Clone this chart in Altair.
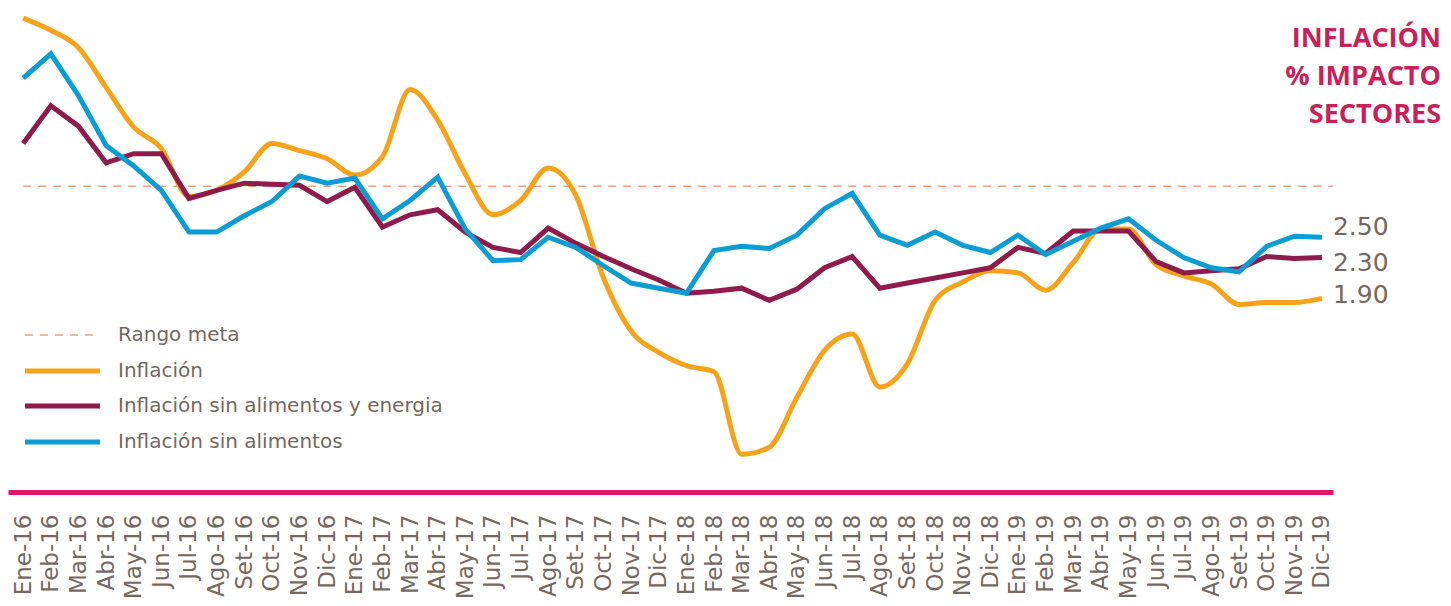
import altair as alt
import pandas as pd

meses = ["Ene-16", "Feb-16", "Mar-16", "Abr-16", "May-16", "Jun-16", "Jul-16", "Ago-16", "Set-16", "Oct-16", "Nov-16", "Dic-16",
         "Ene-17", "Feb-17", "Mar-17", "Abr-17", "May-17", "Jun-17", "Jul-17", "Ago-17", "Set-17", "Oct-17", "Nov-17", "Dic-17",
         "Ene-18", "Feb-18", "Mar-18", "Abr-18", "May-18", "Jun-18", "Jul-18", "Ago-18", "Set-18", "Oct-18", "Nov-18", "Dic-18",
         "Ene-19", "Feb-19", "Mar-19", "Abr-19", "May-19", "Jun-19", "Jul-19", "Ago-19", "Set-19", "Oct-19", "Nov-19", "Dic-19"]

inflacion = [4.65, 4.53, 4.36, 3.97, 3.58, 3.37, 2.90, 2.96, 3.14, 3.42, 3.35, 3.27,
             3.11, 3.29, 3.95, 3.65, 3.12, 2.72, 2.86, 3.18, 2.91, 2.10, 1.58, 1.37,
             1.24, 1.18, 0.37, 0.44, 0.93, 1.39, 1.55, 1.03, 1.26, 1.88, 2.06, 2.17,
             2.15, 1.98, 2.25, 2.58, 2.58, 2.23, 2.12, 2.04, 1.84, 1.86, 1.86, 1.90]

sin_alim_energia = [3.42, 3.79, 3.59, 3.23, 3.32, 3.32, 2.88, 2.96, 3.03, 3.02, 3.01, 2.85,
                    2.99, 2.60, 2.72, 2.77, 2.55, 2.40, 2.35, 2.59, 2.44, 2.31, 2.19, 2.08,
                    1.95, 1.97, 2.00, 1.88, 1.99, 2.20, 2.31, 2.00, 2.05, 2.10, 2.15, 2.20,
                    2.40, 2.34, 2.56, 2.56, 2.56, 2.26, 2.15, 2.17, 2.19, 2.31, 2.29, 2.30]

sin_alimentos = [4.06, 4.30, 3.89, 3.40, 3.20, 2.96, 2.55, 2.55, 2.71, 2.85, 3.10, 3.03,
                 3.08, 2.68, 2.86, 3.09, 2.58, 2.27, 2.28, 2.50, 2.40, 2.22, 2.05, 2.00,
                 1.95, 2.37, 2.41, 2.39, 2.52, 2.78, 2.93, 2.52, 2.42, 2.55, 2.42, 2.35,
                 2.52, 2.33, 2.46, 2.59, 2.68, 2.47, 2.30, 2.20, 2.16, 2.41, 2.51, 2.50]

rango_meta = 3.0

series = ["Rango meta", "Inflación", "Inflación sin alimentos y energia", "Inflación sin alimentos"]
colores = ["#F2A07B", "#F6A21B", "#8F1B4C", "#0A9CD3"]
titulo = ["INFLACIÓN", "% IMPACTO", "SECTORES"]

W, H = 1325, 479
TEXT_COLOR = "#74685F"
N = len(meses)
X_MIN, X_MAX = -0.55, N - 1 + 0.4

valores = {series[1]: inflacion, series[2]: sin_alim_energia, series[3]: sin_alimentos}
df = pd.DataFrame([
    {"idx": i, "mes": m, "valor": v, "serie": s}
    for s, vals in valores.items() for i, (m, v) in enumerate(zip(meses, vals))
])

label_expr = "[" + ",".join("'" + m + "'" for m in meses) + "][datum.value]"

x_scale = alt.Scale(domain=[X_MIN, X_MAX], nice=False, zero=False)
x_axis = alt.Axis(title=None, values=list(range(N)), labelExpr=label_expr,
                  labelAngle=-90, labelAlign="right", labelBaseline="middle",
                  labelFont="DejaVu Sans", labelFontSize=23, labelColor=TEXT_COLOR,
                  labelPadding=22, ticks=False, grid=False, labelOverlap=False,
                  labelFlush=False, domainColor="#E3136D", domainWidth=5)
y_scale = alt.Scale(domain=[0, 4.7], nice=False, zero=True)

x_enc = alt.X("idx:Q", scale=x_scale, axis=x_axis)
y_enc = alt.Y("valor:Q", scale=y_scale, axis=None)
color_enc = alt.Color("serie:N", scale=alt.Scale(domain=series, range=colores), legend=None)

base = alt.Chart(df)

meta_rule = base.transform_filter(
    (alt.datum.idx == 0) & (alt.datum.serie == series[1])
).transform_calculate(
    meta=str(rango_meta), fin=str(X_MAX)
).mark_rule(color=colores[0], strokeDash=[8, 7], strokeWidth=1.5).encode(
    x=x_enc, x2=alt.X2("fin:Q"), y=alt.Y("meta:Q", scale=y_scale, axis=None)
)

layers = [meta_rule]
for s, interp in [(series[1], "monotone"), (series[2], "linear"), (series[3], "linear")]:
    layers.append(
        base.transform_filter(alt.datum.serie == s)
        .mark_line(interpolate=interp, strokeWidth=5)
        .encode(x=x_enc, y=y_enc, color=color_enc)
    )

# end-of-line value labels
for s, dy in [(series[3], -10), (series[2], 5), (series[1], -3)]:
    layers.append(
        base.transform_filter((alt.datum.serie == s) & (alt.datum.idx == N - 1))
        .mark_text(align="left", baseline="middle", dx=11, dy=dy, font="DejaVu Sans",
                   fontSize=25, color=TEXT_COLOR)
        .encode(x=x_enc, y=y_enc, text=alt.Text("valor:Q", format=".2f"))
    )

# legend (manual)
leg_df = pd.DataFrame({"serie": series})
leg_rows = [322, 358, 393, 429]
for k, s in enumerate(series):
    one = alt.Chart(leg_df).transform_filter(alt.datum.serie == s)
    if k == 0:
        sym = one.mark_rule(color=colores[k], strokeDash=[8, 7], strokeWidth=1.5)
    else:
        sym = one.mark_rule(color=colores[k], strokeWidth=5)
    layers.append(sym.encode(x=alt.value(17), x2=alt.value(92), y=alt.value(leg_rows[k])))
    layers.append(one.mark_text(align="left", baseline="middle", font="DejaVu Sans",
                                fontSize=20, color=TEXT_COLOR).encode(
        x=alt.value(110), y=alt.value(leg_rows[k]), text="serie:N"))

# title (one text mark per line)
title_df = pd.DataFrame({"t": titulo})
for k, line in enumerate(titulo):
    layers.append(
        alt.Chart(title_df).transform_filter(alt.datum.t == line)
        .mark_text(align="right", baseline="bottom", font="Open Sans", fontWeight="bold",
                   fontSize=27, color="#C91F5B")
        .encode(x=alt.value(1433), y=alt.value(40 + 38 * k), text="t:N")
    )

chart = alt.layer(*layers).properties(
    width=W, height=H, padding=0
).configure_view(stroke=None)

chart.save("out.html", embed_options={"renderer": "svg", "actions": False})
